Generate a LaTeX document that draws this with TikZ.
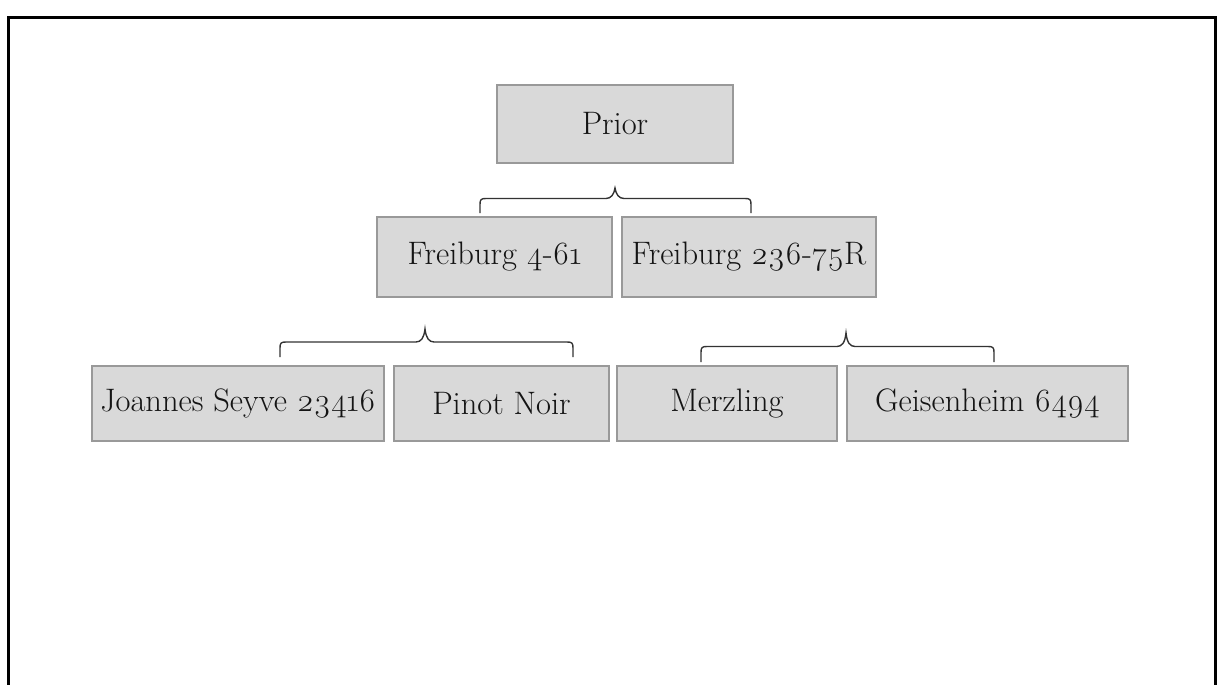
\documentclass[tikz,border=0pt]{standalone}
\usepackage{fontspec}
\setmainfont{Latin Modern Roman}[Numbers=OldStyle]
\begin{document}
\begin{tikzpicture}[x=1pt,y=-1pt,
  cell/.style={draw=black!40,fill=black!15,line width=1.2pt,inner sep=0pt,
    minimum height=#1,text=black!92,font=\fontsize{32.5}{38}\selectfont},
  cell/.default=78pt,
  bracestyle/.style={draw=black!80,line width=1.4pt},
  framestyle/.style={draw=black,line width=3pt}]
\useasboundingbox (0,0) rectangle (1221,685);
\draw[framestyle] (8,18) rectangle (1215,720);
\newcommand{\treebrace}[6]{%
  % #1 left x, #2 right x, #3 cusp x, #4 tip y, #5 horizontal y, #6 cusp y
  \coordinate (bl) at (#1,#4);
  \coordinate (br) at (#2,#4);
  \coordinate (bc) at (#3,#6);
  \draw[bracestyle] (bl) -- (#1,{#5+6})
    .. controls (#1,{#5+1}) and ({#1+1},#5) .. ({#1+6},#5)
    -- ({#3-9},#5)
    .. controls ({#3-4},#5) and ({#3-1},{#5-4}) .. (bc)
    .. controls ({#3+1},{#5-4}) and ({#3+4},#5) .. ({#3+9},#5)
    -- ({#2-6},#5)
    .. controls ({#2-1},#5) and (#2,{#5+1}) .. (#2,{#5+6})
    -- (br);}
\node[cell=78pt,minimum width=236pt] (prior) at (615,124) {Prior};
\node[cell=80pt,minimum width=235pt] (f461) at (494.5,257) {Freiburg 4-61};
\node[cell=80pt,minimum width=254pt] (f236) at (749,257) {Freiburg 236-75R};
\node[cell=75pt,minimum width=292pt] (js) at (238,403.5) {Joannes Seyve 23416};
\node[cell=75pt,minimum width=215pt] (pn) at (501.5,403.5) {Pinot Noir};
\node[cell=75pt,minimum width=220pt] (mz) at (727,403.5) {Merzling};
\node[cell=75pt,minimum width=281pt] (gh) at (987.5,403.5) {Geisenheim 6494};
\treebrace{480}{751}{615}{213}{198.5}{188}
\treebrace{280}{573}{425}{357}{342}{329}
\treebrace{701}{994}{846}{362}{346.5}{333}
\end{tikzpicture}
\end{document}
